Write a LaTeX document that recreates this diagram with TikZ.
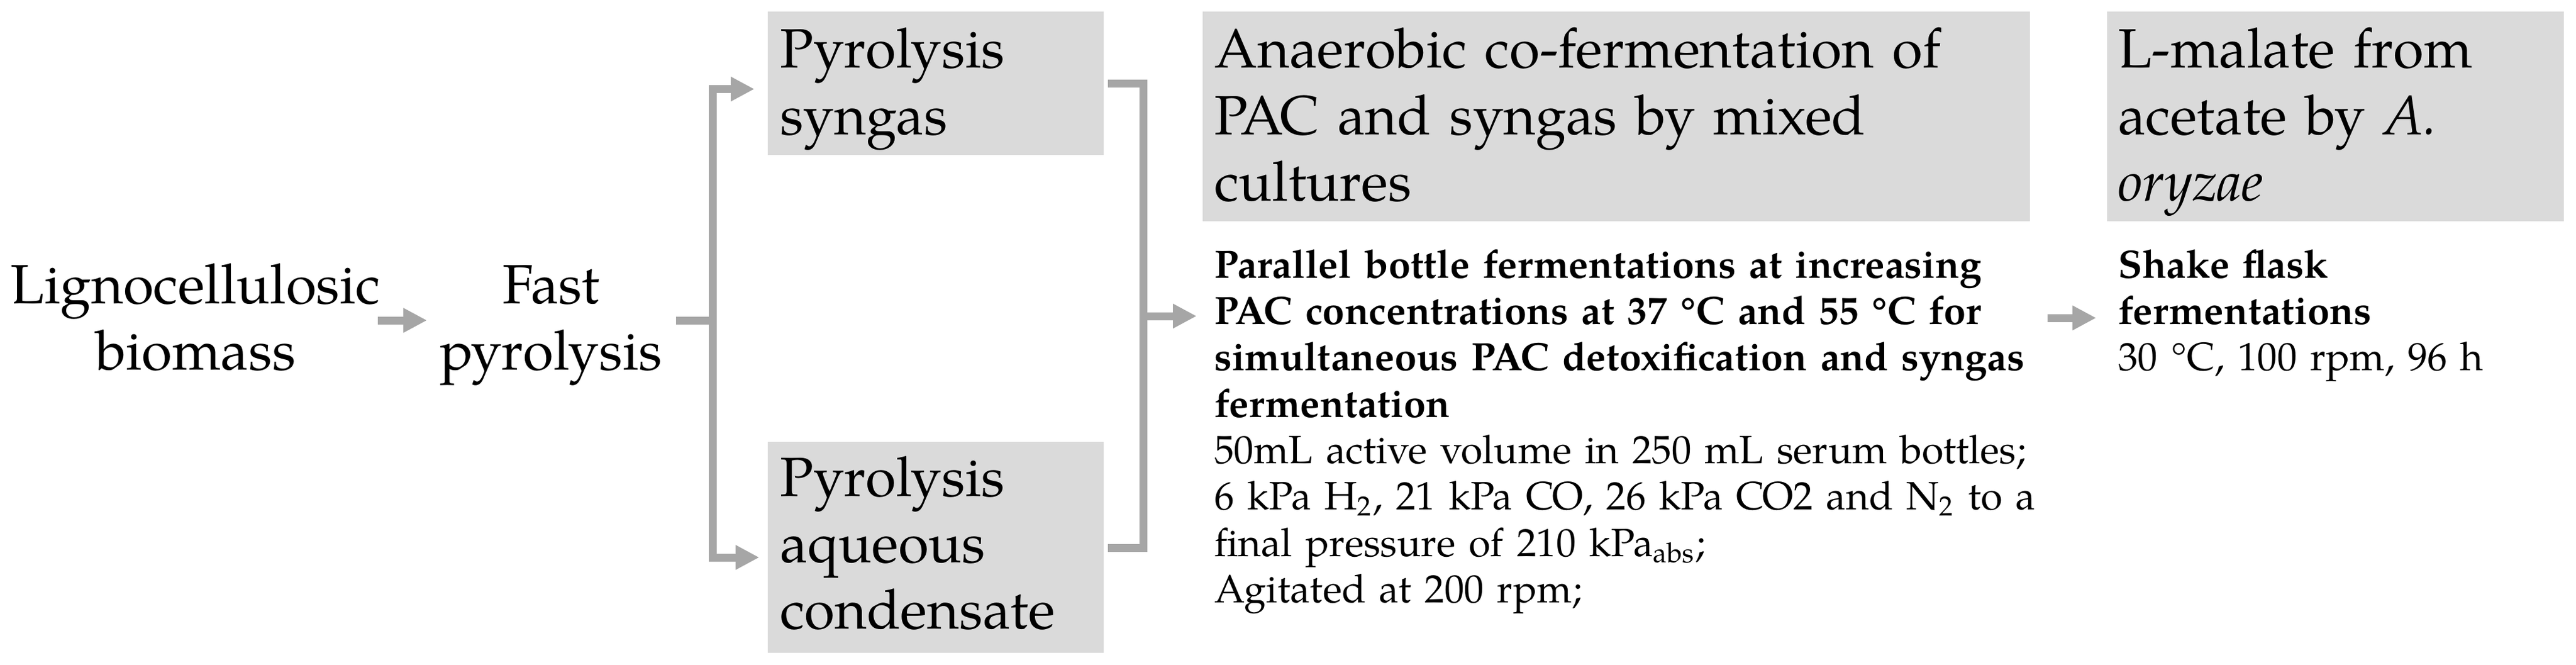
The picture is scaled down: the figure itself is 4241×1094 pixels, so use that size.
\documentclass[tikz,border=0pt]{standalone}
\usepackage{fontspec}
\setmainfont{TeX Gyre Pagella}
\usetikzlibrary{arrows.meta}
\definecolor{arrowgray}{RGB}{166,166,166}
\definecolor{boxgray}{RGB}{218,218,218}
\tikzset{
  conn/.style={draw=arrowgray, line width=2pt, line join=miter},
  tipped/.style={-{Triangle[length=6pt,width=5.85pt]}},
  greybox/.style={rectangle, fill=boxgray, draw=none, inner sep=0pt, outer sep=0pt, anchor=north west},
  bigtxt/.style={font=\fontsize{14}{16.8}\selectfont, inner sep=0pt, align=left, anchor=base west},
  bigctr/.style={font=\fontsize{14}{16.8}\selectfont, inner sep=0pt, align=center, anchor=base, text width=110pt},
  smalltxt/.style={font=\fontsize{10}{11.75}\selectfont, inner sep=0pt, align=left, anchor=base west},
}
\begin{document}
\begin{tikzpicture}[x=0.153846pt, y=-0.153846pt]
\useasboundingbox (0,0) rectangle (4241,1094);

% grey boxes
\node[greybox, minimum width=85.08pt, minimum height=36.31pt] (bsyn) at (1264,19) {};
\node[greybox, minimum width=85.08pt, minimum height=53.38pt] (bpac) at (1264,727) {};
\node[greybox, minimum width=209.54pt, minimum height=53.08pt] (bferm) at (1980,19) {};
\node[greybox, minimum width=115.69pt, minimum height=53.08pt] (bmal) at (3469,19) {};

% texts
\node[bigctr] (lig) at (322,499) {Lignocellulosic\\biomass};
\node[bigctr] (fast) at (907,499) {Fast\\pyrolysis};
\node[bigtxt, text width=80pt] (tsyn) at (1283,112) {Pyrolysis\\syngas};
\node[bigtxt, text width=80pt] (tpac) at (1283,816) {Pyrolysis\\aqueous\\condensate};
\node[bigtxt, text width=205pt] (tferm) at (1998,112) {Anaerobic co-fermentation of\\PAC and syngas by mixed\\cultures};
\node[bigtxt, text width=112pt] (tmal) at (3486,112) {L-malate from\\acetate by \textit{A.}\\\textit{oryzae}};
\node[smalltxt, text width=215pt] (dferm) at (1998,457) {{\bfseries Parallel bottle fermentations at increasing\\PAC concentrations at 37 °C and 55 °C for\\simultaneous PAC detoxification and syngas\\fermentation}\\50mL active volume in 250 mL serum bottles;\\6 kPa H\textsubscript{2}, 21 kPa CO, 26 kPa CO2 and N\textsubscript{2} to a\\final pressure of 210 kPa\textsubscript{abs};\\Agitated at 200 rpm;};
\node[smalltxt, text width=110pt] (dmal) at (3486,457) {{\bfseries Shake flask\\fermentations}\\30 °C, 100 rpm, 96 h};

% connector end points
\coordinate (ligout) at (622,527);
\coordinate (fastin) at (703,527);
\coordinate (fastout) at (1113,527);
\coordinate (jl) at (1173,527);
\coordinate (synin) at (1242,146.5);
\coordinate (pacin) at (1250,917);
\coordinate (synout) at (1824,137.5);
\coordinate (pacout) at (1824,901);
\coordinate (jr) at (1882,520);
\coordinate (fermin) at (1970,520);
\coordinate (fermout) at (3371,523);
\coordinate (malin) at (3451,523);

% connectors
\draw[conn, tipped] (ligout) -- (fastin);
\draw[conn] (fastout) -- (jl);
\draw[conn, tipped] (jl) |- (synin);
\draw[conn, tipped] (jl) |- (pacin);
\draw[conn] (synout) -| (jr) |- (pacout);
\draw[conn, tipped] (jr) -- (fermin);
\draw[conn, tipped] (fermout) -- (malin);
\end{tikzpicture}
\end{document}
